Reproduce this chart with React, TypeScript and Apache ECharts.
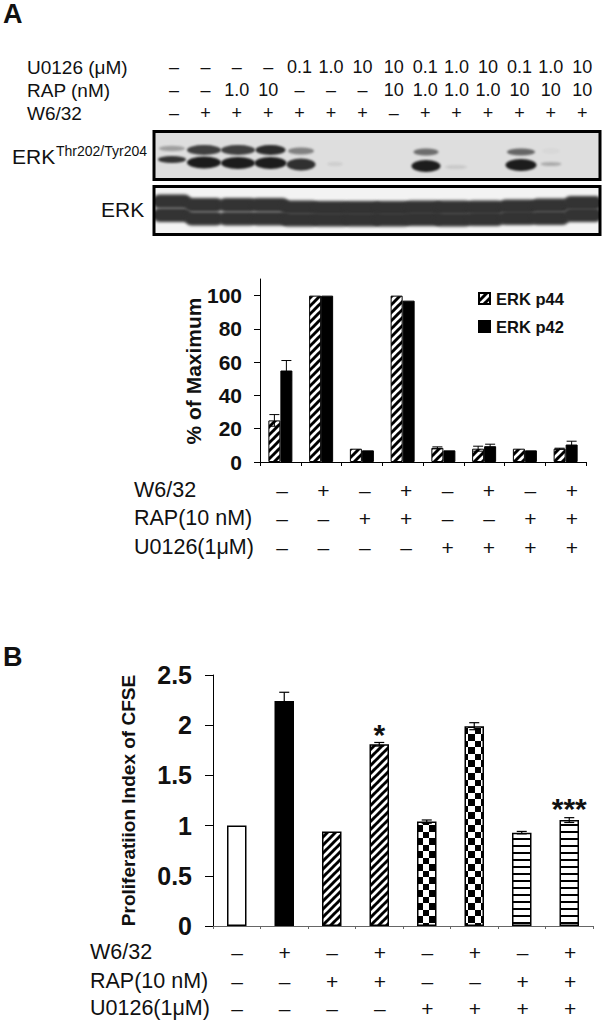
import React, { useEffect, useRef } from "react";
import * as echarts from "echarts";

const FONT = '"Liberation Sans", Arial, sans-serif';

// Panel A – densitometry
const categoriesA = ["1", "2", "3", "4", "5", "6", "7", "8"];
const erkP44 = [25, 100, 8, 100, 8.5, 8, 8, 8];
const erkP42 = [55, 100, 7, 97, 7, 9.5, 7, 10.5];
const erkP44Err = [3.5, 0, 0, 0, 0.6, 1.5, 0, 0.3];
const erkP42Err = [6, 0, 0, 0, 0, 1.2, 0, 2];
const yTicksA = [0, 20, 40, 60, 80, 100];

// Panel B – proliferation
const categoriesB = ["1", "2", "3", "4", "5", "6", "7", "8"];
const proliferation = [1, 2.24, 0.94, 1.81, 1.04, 1.99, 0.93, 1.055];
const proliferationErr = [0, 0.088, 0, 0.018, 0.016, 0.035, 0.012, 0.024];
const significance = ["", "", "", "*", "", "", "", "***"];

// Treatment rows
const topU0126 = ["–", "–", "–", "–", "0.1", "1.0", "10", "10", "0.1", "1.0", "10", "0.1", "1.0", "10"];
const topRap = ["–", "–", "1.0", "10", "–", "–", "–", "10", "1.0", "1.0", "1.0", "10", "10", "10"];
const topW632 = ["–", "+", "+", "+", "+", "+", "+", "–", "+", "+", "+", "+", "+", "+"];
const rowW632 = ["–", "+", "–", "+", "–", "+", "–", "+"];
const rowRap = ["–", "–", "+", "+", "–", "–", "+", "+"];
const rowU0126 = ["–", "–", "–", "–", "+", "+", "+", "+"];

// Western blot band intensities per lane (0–1)
const phosphoP44 = [0.32, 0.82, 0.82, 0.92, 0.48, 0, 0, 0, 0.58, 0, 0, 0.62, 0.03, 0];
const phosphoP42 = [0.85, 0.97, 0.97, 0.97, 0.87, 0.08, 0, 0, 0.97, 0.1, 0, 0.97, 0.25, 0];

function tile(size: number, paint: (c: CanvasRenderingContext2D) => void) {
  const cv = document.createElement("canvas");
  cv.width = size;
  cv.height = size;
  const c = cv.getContext("2d")!;
  c.fillStyle = "#fff";
  c.fillRect(0, 0, size, size);
  c.fillStyle = "#000";
  c.strokeStyle = "#000";
  paint(c);
  return cv;
}

function makeHatch() {
  const s = 8;
  return tile(s, (c) => {
    c.lineWidth = 3;
    for (const o of [-s, 0, s]) {
      c.beginPath();
      c.moveTo(o - 1, s + 1);
      c.lineTo(o + s + 1, -1);
      c.stroke();
    }
  });
}
function makeChecker() {
  return tile(13, (c) => {
    c.fillRect(7, 0, 6, 6);
    c.fillRect(0, 6, 7, 7);
  });
}
function makeStripes() {
  return tile(7, (c) => {
    c.fillRect(0, 5, 7, 2);
  });
}

function paintTopBlot() {
  const cv = document.createElement("canvas");
  cv.width = 447;
  cv.height = 50;
  const c = cv.getContext("2d")!;
  c.fillStyle = "#dedede";
  c.fillRect(0, 0, 447, 50);
  c.filter = "blur(1.2px)";
  const cx = [172, 204, 238, 270.5, 301, 335, 365, 396, 426, 456, 488, 521, 551, 583];
  const hw44 = [13, 17, 17, 15, 13, 8, 8, 8, 12.5, 8, 8, 14, 9, 8];
  const hw42 = [14, 17, 17, 16, 14.5, 8, 8, 8, 14.5, 11, 8, 15.5, 10.5, 8];
  const y44 = [148.5, 150, 150, 150, 151, 150, 150, 150, 152, 152, 152, 152, 151, 150];
  const y42 = [159.5, 162.5, 163, 163, 164.5, 164, 164, 164, 166, 167, 166, 165, 164, 164];
  cx.forEach((x, i) => {
    if (phosphoP44[i] > 0) {
      const h = phosphoP44[i] > 0.7 ? 5 : phosphoP44[i] > 0.4 ? 3.5 : 2.8;
      c.fillStyle = `rgba(28,28,28,${phosphoP44[i]})`;
      c.beginPath();
      c.ellipse(x - 153, y44[i] - 131, hw44[i], h, 0, 0, 7);
      c.fill();
    }
    if (phosphoP42[i] > 0) {
      const h = i === 0 ? 3.4 : phosphoP42[i] < 0.3 ? 2 : 6;
      c.fillStyle = `rgba(22,22,22,${phosphoP42[i]})`;
      c.beginPath();
      c.ellipse(x - 153, y42[i] - 131, hw42[i], h, 0, 0, 7);
      c.fill();
    }
  });
  return cv.toDataURL();
}

function paintBottomBlot() {
  const cv = document.createElement("canvas");
  cv.width = 447;
  cv.height = 50;
  const c = cv.getContext("2d")!;
  c.fillStyle = "#f3f3f3";
  c.fillRect(0, 0, 447, 50);
  c.filter = "blur(1.6px)";
  const cx = [172, 204, 238, 270, 300, 331, 362, 392, 423, 453, 485, 518, 550, 583];
  const rowA = [201.5, 205, 205, 205, 207.5, 208, 208, 208, 207.5, 207.5, 207.5, 206.5, 205.5, 203];
  const rowB = [215, 218.5, 218.5, 218.5, 219.5, 219.5, 219.5, 219.5, 219, 219.5, 219, 218, 218, 215];
  c.fillStyle = "#333";
  cx.forEach((x, i) => {
    for (const y of [rowA[i], rowB[i]]) {
      c.beginPath();
      c.roundRect(x - 153 - 19.5, y - 131 - 55 - 7, 39, 14, 7);
      c.fill();
    }
  });
  return cv.toDataURL();
}

function text(t: string, x: number, y: number, size: number, extra: any = {}) {
  return {
    type: "text",
    silent: true,
    style: {
      text: t,
      x,
      y,
      fill: extra.fill ?? "#111",
      font: `${extra.bold ? "bold " : ""}${size}px ${FONT}`,
      textAlign: extra.align ?? "left",
      textVerticalAlign: "middle",
    },
  };
}

function signRow(signs: string[], x0: number, step: number, y: number, size: number) {
  return signs.map((s, i) => text(s, x0 + step * i, y, size, { align: "center" }));
}

function errorSeries(name: string, xi: number, yi: number, values: number[], errs: number[], offset: number, cap: number, lw: number) {
  return {
    type: "custom",
    name,
    xAxisIndex: xi,
    yAxisIndex: yi,
    z: 5,
    silent: true,
    clip: false,
    data: values.map((v, i) => [i, v - errs[i], v + errs[i]]).filter((_, i) => errs[i] > 0),
    encode: { x: 0, y: [1, 2] },
    renderItem: (_: any, api: any) => {
      const lo = api.coord([api.value(0), api.value(1)]);
      const hi = api.coord([api.value(0), api.value(2)]);
      const x = lo[0] + offset;
      const style = { stroke: "#000", lineWidth: lw, fill: "none" };
      return {
        type: "group",
        children: [
          { type: "line", shape: { x1: x, y1: lo[1], x2: x, y2: hi[1] }, style },
          { type: "line", shape: { x1: x - cap, y1: hi[1], x2: x + cap, y2: hi[1] }, style },
          { type: "line", shape: { x1: x - cap, y1: lo[1], x2: x + cap, y2: lo[1] }, style },
        ],
      };
    },
  };
}

export default function App() {
  const ref = useRef<HTMLDivElement>(null);
  useEffect(() => {
    const chart = echarts.init(ref.current!, undefined, { renderer: "svg" });

    const gridA = { left: 260, top: 279, width: 326, height: 183 };
    const gridB = { left: 213, top: 675, width: 380, height: 251 };
    const bottomB = gridB.top + gridB.height;
    const stepB = gridB.width / 8;
    const barB = 19.5;

    const hatch = makeHatch();
    const checker = makeChecker();
    const stripes = makeStripes();
    const hatchFill = { image: hatch, repeat: "repeat" };
    const leftOf = (i: number) => Math.round(gridB.left + stepB * (i + 0.5) - barB / 2);
    const checkerFill = (i: number) => ({ image: checker, repeat: "repeat", x: leftOf(i), y: bottomB });

    const fillsB: any[] = [
      "#fff",
      "#000",
      hatchFill,
      hatchFill,
      checkerFill(4),
      checkerFill(5),
      { image: stripes, repeat: "repeat", x: 0, y: bottomB },
      { image: stripes, repeat: "repeat", x: 0, y: bottomB },
    ];

    const axisBase = {
      axisLine: { show: true, onZero: false, lineStyle: { color: "#000", width: 1 } },
      splitLine: { show: false },
    };

    const starDistance = [0, 0, 0, -5, 0, 0, 0, -3];

    const option: any = {
      animation: false,
      backgroundColor: "#fff",
      textStyle: { fontFamily: FONT },
      grid: [
        { ...gridA, containLabel: false },
        { ...gridB, containLabel: false },
      ],
      legend: {
        orient: "vertical",
        left: 478,
        top: 290,
        padding: 0,
        itemWidth: 11,
        itemHeight: 11,
        itemGap: 11,
        selectedMode: false,
        icon: "rect",
        data: ["ERK p44", "ERK p42"],
        textStyle: { fontFamily: FONT, fontWeight: "bold", fontSize: 16.5, color: "#111", padding: [0, 0, 0, 1] },
      },
      xAxis: [
        {
          ...axisBase,
          type: "category",
          gridIndex: 0,
          data: categoriesA,
          axisTick: { show: true, length: 4, lineStyle: { color: "#000" } },
          axisLabel: { show: false },
        },
        {
          ...axisBase,
          type: "category",
          gridIndex: 1,
          data: categoriesB,
          axisLine: { show: true, onZero: false, lineStyle: { color: "#666", width: 1 } },
          axisTick: { show: true, length: 3, lineStyle: { color: "#666" } },
          axisLabel: { show: false },
        },
      ],
      yAxis: [
        {
          ...axisBase,
          type: "value",
          gridIndex: 0,
          min: 0,
          max: 110,
          axisTick: { show: true, length: 6, customValues: yTicksA, lineStyle: { color: "#000" } },
          axisLabel: {
            customValues: yTicksA,
            margin: 18,
            fontFamily: FONT,
            fontWeight: "bold",
            fontSize: 21,
            color: "#111",
          },
        },
        {
          ...axisBase,
          type: "value",
          gridIndex: 1,
          min: 0,
          max: 2.5,
          interval: 0.5,
          name: "Proliferatiion Index of CFSE",
          nameLocation: "middle",
          nameRotate: 90,
          nameGap: 75,
          nameTextStyle: { fontFamily: FONT, fontWeight: "bold", fontSize: 19, color: "#111" },
          axisTick: { show: true, length: 8, lineStyle: { color: "#000" } },
          axisLabel: { margin: 21, fontFamily: FONT, fontWeight: "bold", fontSize: 25, color: "#111" },
        },
      ],
      series: [
        {
          type: "bar",
          name: "ERK p44",
          xAxisIndex: 0,
          yAxisIndex: 0,
          barWidth: 12,
          barGap: 0,
          data: erkP44,
          itemStyle: { color: hatchFill, borderColor: "#000", borderWidth: 1 },
        },
        {
          type: "bar",
          name: "ERK p42",
          xAxisIndex: 0,
          yAxisIndex: 0,
          barWidth: 12,
          barGap: 0,
          data: erkP42,
          itemStyle: { color: "#000", borderColor: "#000", borderWidth: 1 },
        },
        errorSeries("p44 error", 0, 0, erkP44, erkP44Err, -6, 5, 1),
        errorSeries("p42 error", 0, 0, erkP42, erkP42Err, 6, 5, 1),
        {
          type: "bar",
          name: "Proliferation",
          xAxisIndex: 1,
          yAxisIndex: 1,
          barWidth: barB,
          data: proliferation.map((v, i) => ({
            value: v,
            itemStyle: { color: fillsB[i], borderColor: "#000", borderWidth: 1.5 },
            label: significance[i]
              ? {
                  show: true,
                  formatter: significance[i],
                  position: "top",
                  distance: starDistance[i],
                  fontSize: 30,
                  fontWeight: "bold",
                  color: "#111",
                  fontFamily: FONT,
                }
              : { show: false },
          })),
        },
        errorSeries("Proliferation error", 1, 1, proliferation, proliferationErr, 0, 5, 1.2),
      ],
      graphic: {
        elements: [
          text("A", 3, 14, 27, { bold: true }),
          text("B", 3, 657, 27, { bold: true }),
          text("U0126 (μM)", 27, 67, 19),
          text("RAP (nM)", 27, 90, 19),
          text("W6/32", 27, 113, 19),
          ...signRow(topU0126, 174, 31.4, 67, 18),
          ...signRow(topRap, 174, 31.4, 90, 18),
          ...signRow(topW632, 174, 31.4, 113, 18),
          { type: "image", silent: true, style: { image: paintTopBlot(), x: 153, y: 131, width: 447, height: 50 } },
          { type: "image", silent: true, style: { image: paintBottomBlot(), x: 153, y: 186, width: 447, height: 50 } },
          { type: "rect", silent: true, shape: { x: 154, y: 131.5, width: 446, height: 48 }, style: { fill: "none", stroke: "#000", lineWidth: 3 } },
          { type: "rect", silent: true, shape: { x: 154, y: 186.5, width: 446, height: 48 }, style: { fill: "none", stroke: "#000", lineWidth: 3 } },
          text("ERK", 12, 156, 21),
          text("Thr202/Tyr204", 56, 151, 14),
          text("ERK", 101, 209, 21),
          {
            type: "group",
            x: 193,
            y: 371,
            rotation: Math.PI / 2,
            silent: true,
            children: [text("% of Maximum", 0, 0, 21, { bold: true, align: "center" })],
          },
          text("W6/32", 134, 490, 21.5),
          text("RAP(10 nM)", 134, 518, 21.5),
          text("U0126(1μM)", 134, 547, 21.5),
          ...signRow(rowW632, 282, 41.4, 490, 21),
          ...signRow(rowRap, 282, 41.4, 518, 21),
          ...signRow(rowU0126, 282, 41.4, 547, 21),
          text("W6/32", 90, 952, 21.5),
          text("RAP(10 nM)", 90, 981, 21.5),
          text("U0126(1μM)", 90, 1008, 21.5),
          ...signRow(rowW632, 237, 47.6, 952, 21),
          ...signRow(rowRap, 237, 47.6, 981, 21),
          ...signRow(rowU0126, 237, 47.6, 1008, 21),
        ],
      },
    };
    chart.setOption(option);
    return () => chart.dispose();
  }, []);
  return <div ref={ref} style={{ position: "absolute", left: 0, top: 0, width: 603, height: 1020 }} />;
}
